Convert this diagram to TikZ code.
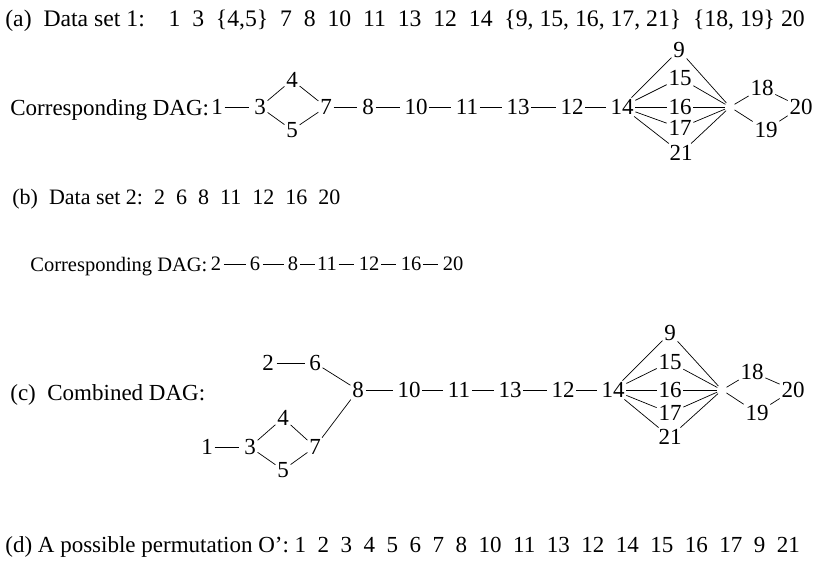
\documentclass[tikz,border=0pt]{standalone}
\usepackage{fontspec}
\setmainfont{Liberation Serif}
\begin{document}
\begin{tikzpicture}[x=1pt,y=-1pt,line width=0.7pt,
  every node/.style={font=\fontsize{23}{27}\selectfont},
  num/.style={inner sep=1.5pt},
  lbl/.style={anchor=base west,inner sep=0pt},
  hub/.style={circle,inner sep=0pt,minimum size=10pt},
  gap/.style={shorten >=3pt}]
\useasboundingbox (0,0) rectangle (813,562);

%data set 1
\node[lbl,font=\fontsize{23.7}{28}\selectfont] (seta) at (5,26) {(a)\ \ Data set 1:\ \ \ \ 1\ \ 3\ \ \{4,5\}\ \ 7\ \ 8\ \ 10\ \ 11\ \ 13\ \ 12\ \ 14\ \ \{9, 15, 16, 17, 21\}\ \ \{18, 19\} 20};

%dag 1
\node[lbl] (daga) at (10,115) {Corresponding DAG:};
\node[num] (a1) at (217,107) {1};
\node[num] (a3) at (260,107) {3};
\node[num] (a4) at (292,80) {4};
\node[num] (a5) at (292,130) {5};
\node[num] (a7) at (326,107) {7};
\node[num] (a8) at (368,107) {8};
\node[num] (a10) at (416,107) {10};
\node[num] (a11) at (467,107) {11};
\node[num] (a13) at (518,107) {13};
\node[num] (a12) at (572,107) {12};
\node[num] (a14) at (622,107) {14};
\node[num] (a9) at (679,50) {9};
\node[num] (a15) at (680,78) {15};
\node[num] (a16) at (680,107) {16};
\node[num] (a17) at (680,128) {17};
\node[num] (a21) at (681,153) {21};
\node[hub] (ja) at (730,107) {};
\node[num] (a18) at (762,88) {18};
\node[num] (a19) at (766,130) {19};
\node[num] (a20) at (801,107) {20};
\foreach \u/\v in {a1/a3,a7/a8,a8/a10,a10/a11,a11/a13,a13/a12,a12/a14}
  \draw[gap] (\u) -- (\v);
\foreach \u/\v in {a3/a4,a3/a5,a4/a7,a5/a7,a14/a9,a14/a15,a14/a16,a14/a17,a14/a21,
  a9/ja,a15/ja,a16/ja,a17/ja,a21/ja,ja/a18,ja/a19,a18/a20,a19/a20}
  \draw (\u) -- (\v);

%data set 2
\node[lbl,font=\fontsize{22}{26}\selectfont] (setb) at (12,204) {(b)\ \ Data set 2:\ \ 2\ \ 6\ \ 8\ \ 11\ \ 12\ \ 16\ \ 20};

%dag 2
\node[lbl,font=\fontsize{20.5}{24}\selectfont] (dagb) at (30,271) {Corresponding DAG:};
\begin{scope}[every node/.style={font=\fontsize{20.5}{24}\selectfont}]
\node[num] (b2) at (216,264) {2};
\node[num] (b6) at (255,264) {6};
\node[num] (b8) at (293,264) {8};
\node[num] (b11) at (327,264) {11};
\node[num] (b12) at (369,264) {12};
\node[num] (b16) at (411,264) {16};
\node[num] (b20) at (453,264) {20};
\end{scope}
\foreach \u/\v in {b2/b6,b6/b8}
  \draw[shorten >=2pt,shorten <=1pt] (\u) -- (\v);
\draw (b8) -- (b11);
\foreach \u/\v in {b11/b12,b12/b16,b16/b20}
  \draw[gap] (\u) -- (\v);

%combined dag
\node[lbl] (dagc) at (10,400) {(c)\ \ Combined DAG:};
\node[num] (c2) at (268,363) {2};
\node[num] (c6) at (315,363) {6};
\node[num] (c1) at (207,447) {1};
\node[num] (c3) at (250,447) {3};
\node[num] (c4) at (283,418) {4};
\node[num] (c5) at (283,470) {5};
\node[num] (c7) at (315,447) {7};
\node[num] (c8) at (358,390) {8};
\node[num] (c10) at (409,390) {10};
\node[num] (c11) at (459,390) {11};
\node[num] (c13) at (510,390) {13};
\node[num] (c12) at (563,390) {12};
\node[num] (c14) at (613,390) {14};
\node[num] (c9) at (670,333) {9};
\node[num] (c15) at (670,362) {15};
\node[num] (c16) at (670,390) {16};
\node[num] (c17) at (670,413) {17};
\node[num] (c21) at (670,437) {21};
\node[hub] (jc) at (722,390) {};
\node[num] (c18) at (752,372) {18};
\node[num] (c19) at (757,413) {19};
\node[num] (c20) at (793,390) {20};
\draw[shorten >=2pt,shorten <=1pt] (c2) -- (c6);
\foreach \u/\v in {c1/c3,c8/c10,c10/c11,c11/c13,c13/c12,c12/c14}
  \draw[gap] (\u) -- (\v);
\foreach \u/\v in {c6/c8,c3/c4,c3/c5,c4/c7,c5/c7,c7/c8,c14/c9,c14/c15,c14/c16,c14/c17,c14/c21,
  c9/jc,c15/jc,c16/jc,c17/jc,c21/jc,jc/c18,jc/c19,c18/c20,c19/c20}
  \draw (\u) -- (\v);

%permutation
\node[lbl] (perm) at (5,552) {(d) A possible permutation O':\ 1\ \ 2\ \ 3\ \ 4\ \ 5\ \ 6\ \ 7\ \ 8\ \ 10\ \ 11\ \ 13\ \ 12\ \ 14\ \ 15\ \ 16\ \ 17\ \ 9\ \ 21};

\end{tikzpicture}
\end{document}
